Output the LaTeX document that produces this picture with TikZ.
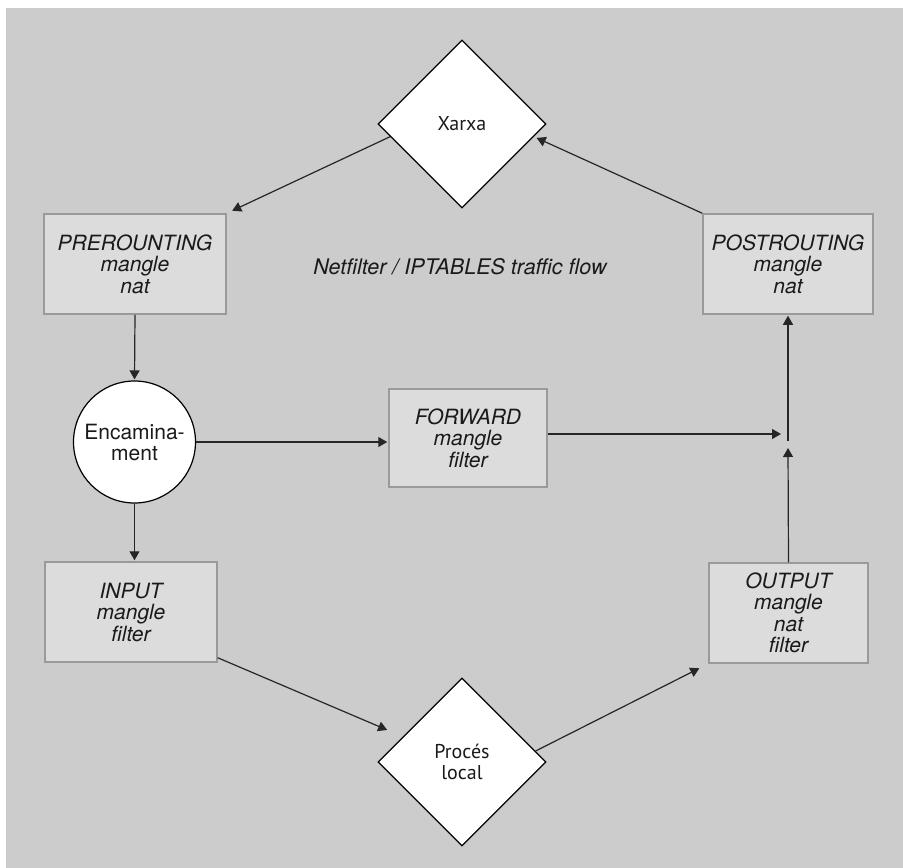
\documentclass[tikz,border=0pt]{standalone}
\usepackage{fontspec}
\setmainfont{TeX Gyre Heros}
\newfontfamily\myriad{PT Sans}
\usetikzlibrary{shapes.geometric,arrows.meta,calc}
\definecolor{bgc}{HTML}{CCCCCC}
\definecolor{boxc}{HTML}{DCDCDC}
\definecolor{boxb}{HTML}{9A9A9A}
\definecolor{ink}{HTML}{1A1A1A}
\begin{document}
\begin{tikzpicture}[x=1pt,y=-1pt,
  chainbox/.style={draw=boxb, line width=1.5pt, fill=boxc, inner sep=0pt, align=center, text=ink,
    font=\fontsize{21}{21.5}\selectfont\itshape},
  dia/.style={diamond, draw=black, line width=1.2pt, fill=white, minimum width=168pt, minimum height=168pt,
    inner sep=0pt, align=center, text=ink, font=\myriad\fontsize{20}{21}\selectfont},
  arr/.style={-{Triangle[length=9pt,width=10pt]}, line width=1.2pt, draw=black!85}]
\useasboundingbox (0,0) rectangle (903,868);
\fill[bgc] (6,8) rectangle (903,868);

% nodes
\node[dia] (xarxa) at (462,124) {Xarxa};
\node[dia] (proc) at (462,762) {Procés\\local};
\node[chainbox, minimum width=182pt, minimum height=100pt] (pre) at (135,264) {PREROUNTING\\mangle\\nat};
\node[chainbox, minimum width=170pt, minimum height=100pt] (post) at (788,264) {POSTROUTING\\mangle\\nat};
\node[chainbox, minimum width=158pt, minimum height=98pt] (fwd) at (468,438) {FORWARD\\mangle\\filter};
\node[chainbox, minimum width=172pt, minimum height=100pt] (inp) at (131,612) {INPUT\\mangle\\filter};
\node[chainbox, minimum width=159pt, minimum height=100pt] (out) at (788.5,613) {OUTPUT\\mangle\\nat\\filter};
\node[circle, draw=black, fill=white, line width=1.2pt, minimum size=122pt, inner sep=0pt, align=center,
  text=ink, font=\fontsize{21}{21}\selectfont] (enc) at (134.5,442) {Encamina-\\ment};
\node[text=ink, font=\fontsize{21.5}{21.5}\selectfont\itshape] (title) at (460,267) {Netfilter / IPTABLES traffic flow};
\coordinate (jn) at (788,434);

% connectors
\draw[arr, shorten >=6pt] ($(xarxa.west)!0.15!(xarxa.south)$) -- (pre.north east);
\draw[arr, shorten >=3pt] (post.north west) -- ($(xarxa.east)!0.15!(xarxa.south)$);
\draw[arr, shorten >=1pt] (pre.south) -- (enc.north);
\draw[arr, shorten >=1pt] (enc.east) -- (enc.east -| fwd.west);
\draw[arr, shorten >=7pt] (fwd.east |- jn) -- (jn);
\draw[arr, shorten >=1pt] ($(jn)+(0,7)$) -- (post.south);
\draw[arr, shorten >=1pt] (out.north) -- ($(jn)+(0,13)$);
\draw[arr, shorten >=1pt] (enc.south) -- (enc.south |- inp.north);
\draw[arr, shorten >=17pt] ($(inp.south east)+(0,-5)$) -- ($(proc.west)!0.3!(proc.north)$);
\draw[arr, shorten >=10pt] ($(proc.north)!0.87!(proc.east)$) -- (out.south west);
\end{tikzpicture}
\end{document}
